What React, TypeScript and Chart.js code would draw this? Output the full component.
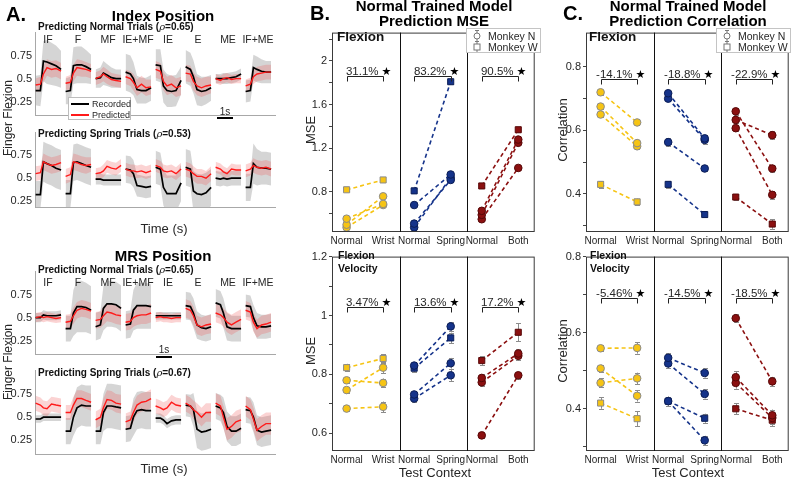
import React, { useEffect, useRef } from 'react';
import { Chart, registerables } from 'chart.js';
Chart.register(...registerables);

const FONT = '"Liberation Sans", Arial, sans-serif';
const TXT = '#262626';

// ---------------- Panel A : time series ----------------
const SEGMENTS = ['IF', 'F', 'MF', 'IE+MF', 'IE', 'E', 'ME', 'IF+ME'];
const SAMPLE_T = [0.02, 0.18, 0.28, 0.4, 0.55, 0.7, 0.87];
const A_TICKS = [0.25, 0.5, 0.75];

// Index position, normal trials
const idxNormalRec = [
  [0.37, 0.37, 0.69, 0.68, 0.66, 0.64, 0.6],
  [0.36, 0.37, 0.64, 0.65, 0.65, 0.63, 0.6],
  [0.5, 0.51, 0.56, 0.54, 0.51, 0.5, 0.5],
  [0.57, 0.55, 0.5, 0.38, 0.37, 0.37, 0.4],
  [0.65, 0.64, 0.42, 0.37, 0.36, 0.37, 0.48],
  [0.63, 0.6, 0.52, 0.38, 0.36, 0.37, 0.4],
  [0.5, 0.5, 0.5, 0.5, 0.51, 0.52, 0.55],
  [0.36, 0.37, 0.62, 0.6, 0.58, 0.57, 0.57],
];
const idxNormalPred = [
  [0.43, 0.44, 0.55, 0.62, 0.6, 0.61, 0.58],
  [0.45, 0.46, 0.56, 0.62, 0.61, 0.6, 0.58],
  [0.5, 0.52, 0.55, 0.52, 0.49, 0.48, 0.47],
  [0.52, 0.5, 0.46, 0.4, 0.44, 0.4, 0.41],
  [0.6, 0.58, 0.47, 0.42, 0.44, 0.4, 0.42],
  [0.56, 0.55, 0.47, 0.42, 0.4, 0.42, 0.43],
  [0.5, 0.48, 0.5, 0.51, 0.49, 0.5, 0.5],
  [0.42, 0.44, 0.52, 0.55, 0.56, 0.57, 0.57],
];
const idxNormalRecSd = [
  [0.16, 0.17, 0.22, 0.24, 0.23, 0.22, 0.2],
  [0.14, 0.15, 0.2, 0.2, 0.2, 0.18, 0.16],
  [0.1, 0.11, 0.13, 0.12, 0.11, 0.1, 0.1],
  [0.2, 0.2, 0.18, 0.15, 0.14, 0.14, 0.14],
  [0.17, 0.18, 0.18, 0.18, 0.17, 0.17, 0.15],
  [0.18, 0.18, 0.18, 0.17, 0.16, 0.15, 0.14],
  [0.05, 0.05, 0.06, 0.06, 0.06, 0.06, 0.06],
  [0.12, 0.12, 0.14, 0.14, 0.13, 0.12, 0.12],
];
const idxNormalPredSd = [
  [0.07, 0.08, 0.09, 0.09, 0.09, 0.09, 0.09],
  [0.07, 0.08, 0.09, 0.09, 0.09, 0.08, 0.08],
  [0.07, 0.07, 0.08, 0.08, 0.07, 0.07, 0.07],
  [0.08, 0.08, 0.09, 0.09, 0.09, 0.09, 0.08],
  [0.09, 0.09, 0.1, 0.1, 0.1, 0.1, 0.1],
  [0.09, 0.09, 0.1, 0.1, 0.1, 0.1, 0.09],
  [0.05, 0.05, 0.05, 0.05, 0.05, 0.05, 0.05],
  [0.07, 0.07, 0.08, 0.08, 0.08, 0.08, 0.08],
];

// Index position, spring trials
const idxSpringRec = [
  [0.32, 0.32, 0.68, 0.66, 0.64, 0.61, 0.59],
  [0.33, 0.33, 0.67, 0.68, 0.66, 0.64, 0.62],
  [0.49, 0.49, 0.48, 0.48, 0.48, 0.48, 0.48],
  [0.6, 0.59, 0.55, 0.42, 0.41, 0.4, 0.41],
  [0.62, 0.6, 0.4, 0.33, 0.33, 0.33, 0.45],
  [0.62, 0.6, 0.36, 0.33, 0.32, 0.34, 0.4],
  [0.5, 0.49, 0.5, 0.49, 0.5, 0.5, 0.5],
  [0.4, 0.4, 0.66, 0.62, 0.61, 0.61, 0.6],
];
const idxSpringPred = [
  [0.55, 0.56, 0.68, 0.66, 0.64, 0.65, 0.67],
  [0.52, 0.54, 0.68, 0.67, 0.65, 0.64, 0.65],
  [0.55, 0.56, 0.58, 0.63, 0.61, 0.6, 0.64],
  [0.6, 0.58, 0.58, 0.57, 0.58, 0.56, 0.58],
  [0.64, 0.62, 0.58, 0.57, 0.58, 0.55, 0.6],
  [0.6, 0.58, 0.55, 0.52, 0.52, 0.5, 0.55],
  [0.62, 0.6, 0.57, 0.55, 0.6, 0.59, 0.59],
  [0.58, 0.6, 0.64, 0.62, 0.61, 0.62, 0.6],
];
const idxSpringRecSd = [
  [0.15, 0.15, 0.22, 0.22, 0.22, 0.22, 0.22],
  [0.15, 0.15, 0.2, 0.2, 0.2, 0.2, 0.2],
  [0.06, 0.06, 0.06, 0.06, 0.06, 0.06, 0.06],
  [0.15, 0.15, 0.15, 0.12, 0.12, 0.12, 0.12],
  [0.18, 0.18, 0.2, 0.2, 0.2, 0.2, 0.2],
  [0.2, 0.2, 0.22, 0.22, 0.22, 0.22, 0.2],
  [0.08, 0.08, 0.08, 0.08, 0.08, 0.08, 0.08],
  [0.15, 0.15, 0.22, 0.2, 0.18, 0.18, 0.18],
];
const idxSpringPredSd = [
  [0.08, 0.08, 0.09, 0.09, 0.09, 0.09, 0.09],
  [0.08, 0.08, 0.09, 0.09, 0.09, 0.09, 0.08],
  [0.06, 0.06, 0.07, 0.07, 0.07, 0.07, 0.07],
  [0.07, 0.07, 0.07, 0.07, 0.07, 0.07, 0.07],
  [0.07, 0.07, 0.07, 0.07, 0.07, 0.07, 0.07],
  [0.08, 0.08, 0.08, 0.08, 0.08, 0.08, 0.08],
  [0.06, 0.06, 0.06, 0.06, 0.06, 0.06, 0.06],
  [0.07, 0.07, 0.08, 0.08, 0.08, 0.08, 0.08],
];

// MRS position, normal trials
const mrsNormalRec = [
  [0.5, 0.5, 0.53, 0.52, 0.52, 0.52, 0.53],
  [0.38, 0.38, 0.55, 0.62, 0.62, 0.61, 0.58],
  [0.4, 0.42, 0.6, 0.65, 0.65, 0.64, 0.6],
  [0.42, 0.43, 0.58, 0.63, 0.63, 0.63, 0.62],
  [0.52, 0.52, 0.52, 0.52, 0.52, 0.52, 0.52],
  [0.63, 0.62, 0.55, 0.42, 0.39, 0.38, 0.4],
  [0.66, 0.64, 0.55, 0.4, 0.38, 0.38, 0.38],
  [0.63, 0.62, 0.5, 0.41, 0.4, 0.4, 0.41],
];
const mrsNormalPred = [
  [0.5, 0.51, 0.5, 0.51, 0.5, 0.49, 0.5],
  [0.45, 0.46, 0.52, 0.58, 0.6, 0.59, 0.57],
  [0.47, 0.48, 0.52, 0.56, 0.55, 0.53, 0.52],
  [0.45, 0.46, 0.5, 0.52, 0.53, 0.53, 0.55],
  [0.5, 0.51, 0.5, 0.5, 0.49, 0.5, 0.5],
  [0.6, 0.58, 0.52, 0.42, 0.4, 0.42, 0.43],
  [0.55, 0.53, 0.5, 0.45, 0.42, 0.45, 0.48],
  [0.58, 0.56, 0.45, 0.38, 0.42, 0.43, 0.45],
];
const mrsNormalRecSd = [
  [0.05, 0.05, 0.05, 0.05, 0.05, 0.05, 0.05],
  [0.14, 0.14, 0.25, 0.28, 0.28, 0.27, 0.26],
  [0.15, 0.15, 0.24, 0.25, 0.25, 0.25, 0.25],
  [0.15, 0.15, 0.22, 0.25, 0.25, 0.25, 0.24],
  [0.04, 0.04, 0.04, 0.04, 0.04, 0.04, 0.04],
  [0.15, 0.15, 0.16, 0.15, 0.14, 0.14, 0.14],
  [0.15, 0.15, 0.16, 0.15, 0.14, 0.14, 0.14],
  [0.12, 0.12, 0.14, 0.14, 0.13, 0.13, 0.13],
];
const mrsNormalPredSd = [
  [0.05, 0.05, 0.05, 0.05, 0.05, 0.05, 0.05],
  [0.08, 0.08, 0.09, 0.09, 0.09, 0.09, 0.09],
  [0.09, 0.09, 0.1, 0.1, 0.1, 0.1, 0.1],
  [0.09, 0.09, 0.1, 0.1, 0.1, 0.1, 0.1],
  [0.05, 0.05, 0.05, 0.05, 0.05, 0.05, 0.05],
  [0.1, 0.1, 0.1, 0.1, 0.1, 0.1, 0.1],
  [0.1, 0.1, 0.1, 0.11, 0.11, 0.11, 0.11],
  [0.1, 0.1, 0.1, 0.1, 0.1, 0.1, 0.1],
];

// MRS position, spring trials
const mrsSpringRec = [
  [0.48, 0.48, 0.5, 0.5, 0.5, 0.5, 0.5],
  [0.35, 0.35, 0.5, 0.6, 0.63, 0.62, 0.62],
  [0.35, 0.35, 0.55, 0.62, 0.62, 0.61, 0.6],
  [0.37, 0.38, 0.5, 0.57, 0.58, 0.57, 0.57],
  [0.49, 0.49, 0.47, 0.43, 0.46, 0.47, 0.47],
  [0.63, 0.62, 0.58, 0.37, 0.34, 0.35, 0.37],
  [0.62, 0.6, 0.55, 0.4, 0.35, 0.35, 0.38],
  [0.58, 0.57, 0.5, 0.36, 0.34, 0.35, 0.36],
];
const mrsSpringPred = [
  [0.65, 0.63, 0.6, 0.59, 0.64, 0.63, 0.62],
  [0.55, 0.55, 0.63, 0.7, 0.7, 0.68, 0.66],
  [0.47, 0.5, 0.6, 0.69, 0.68, 0.65, 0.64],
  [0.45, 0.47, 0.55, 0.63, 0.66, 0.67, 0.7],
  [0.62, 0.6, 0.58, 0.6, 0.66, 0.63, 0.62],
  [0.65, 0.62, 0.58, 0.55, 0.5, 0.55, 0.55],
  [0.65, 0.62, 0.5, 0.37, 0.4, 0.45, 0.47],
  [0.62, 0.58, 0.48, 0.36, 0.4, 0.43, 0.43],
];
const mrsSpringRecSd = [
  [0.04, 0.04, 0.04, 0.04, 0.04, 0.04, 0.04],
  [0.14, 0.14, 0.2, 0.22, 0.22, 0.22, 0.22],
  [0.14, 0.14, 0.2, 0.24, 0.24, 0.24, 0.24],
  [0.14, 0.14, 0.2, 0.2, 0.2, 0.2, 0.2],
  [0.05, 0.05, 0.05, 0.05, 0.05, 0.05, 0.05],
  [0.12, 0.12, 0.18, 0.2, 0.2, 0.2, 0.2],
  [0.14, 0.14, 0.16, 0.16, 0.16, 0.16, 0.16],
  [0.14, 0.14, 0.16, 0.16, 0.16, 0.16, 0.16],
];
const mrsSpringPredSd = [
  [0.08, 0.08, 0.08, 0.08, 0.08, 0.08, 0.08],
  [0.08, 0.08, 0.09, 0.09, 0.09, 0.09, 0.09],
  [0.09, 0.09, 0.1, 0.1, 0.1, 0.1, 0.1],
  [0.09, 0.09, 0.1, 0.1, 0.1, 0.1, 0.1],
  [0.08, 0.08, 0.08, 0.08, 0.08, 0.08, 0.08],
  [0.09, 0.09, 0.1, 0.1, 0.1, 0.1, 0.1],
  [0.11, 0.11, 0.12, 0.12, 0.12, 0.12, 0.12],
  [0.11, 0.11, 0.12, 0.12, 0.12, 0.12, 0.12],
];

// ---------------- Panels B & C : context comparisons ----------------
const X_LABELS = ['Normal', 'Wrist', 'Normal', 'Spring', 'Normal', 'Both'];
const X_POSITIONS = [0, 1, 1.85, 2.85, 3.7, 4.7];
const DIVIDERS = [1.45, 3.3];
const CONTEXT_COLORS = ['#F6C414', '#15338A', '#8B1010'];
const MARKER_EDGE = ['#8a8a8a', '#0b1d55', '#560707'];
const SERIES_SHAPES = ['circle', 'circle', 'circle', 'rect']; // Monkey N sessions, Monkey W

// rows: Wrist, Spring, Both ; columns: N1, N2, N3, W
const mseFlexNormal = [
  [0.555, 0.5, 0.475, 0.82],
  [0.68, 0.51, 0.475, 0.81],
  [0.627, 0.59, 0.55, 0.855],
];
const mseFlexTest = [
  [0.69, 0.76, 0.68, 0.91],
  [0.96, 0.91, 0.93, 1.81],
  [1.28, 1.25, 1.02, 1.37],
];
const mseFlexErrNormal = [
  [0.01, 0.01, 0.01, 0.012],
  [0.01, 0.01, 0.01, 0.012],
  [0.01, 0.01, 0.01, 0.012],
];
const mseFlexErrTest = [
  [0.012, 0.012, 0.012, 0.012],
  [0.015, 0.015, 0.015, 0.02],
  [0.02, 0.02, 0.015, 0.02],
];
const mseVelNormal = [
  [0.78, 0.747, 0.684, 0.823],
  [0.83, 0.732, 0.718, 0.821],
  [0.788, 0.773, 0.593, 0.847],
];
const mseVelTest = [
  [0.771, 0.823, 0.69, 0.854],
  [0.963, 0.838, 0.797, 0.924],
  [0.871, 0.863, 0.797, 0.943],
];
const mseVelErrNormal = [
  [0.01, 0.01, 0.008, 0.013],
  [0.01, 0.01, 0.01, 0.012],
  [0.012, 0.012, 0.008, 0.015],
];
const mseVelErrTest = [
  [0.015, 0.018, 0.018, 0.015],
  [0.015, 0.018, 0.02, 0.018],
  [0.015, 0.015, 0.012, 0.03],
];
const corrFlexNormal = [
  [0.72, 0.675, 0.65, 0.43],
  [0.717, 0.7, 0.563, 0.43],
  [0.66, 0.633, 0.607, 0.39],
];
const corrFlexTest = [
  [0.625, 0.56, 0.55, 0.375],
  [0.575, 0.57, 0.48, 0.335],
  [0.48, 0.585, 0.397, 0.305],
];
const corrFlexErrNormal = [
  [0.008, 0.008, 0.008, 0.01],
  [0.008, 0.008, 0.012, 0.01],
  [0.01, 0.01, 0.01, 0.008],
];
const corrFlexErrTest = [
  [0.008, 0.01, 0.01, 0.01],
  [0.01, 0.012, 0.008, 0.008],
  [0.012, 0.012, 0.012, 0.015],
];
const corrVelNormal = [
  [0.559, 0.506, 0.468, 0.415],
  [0.534, 0.519, 0.42, 0.42],
  [0.638, 0.483, 0.468, 0.4],
];
const corrVelTest = [
  [0.56, 0.434, 0.48, 0.374],
  [0.494, 0.439, 0.317, 0.375],
  [0.472, 0.383, 0.376, 0.37],
];
const corrVelErrNormal = [
  [0.008, 0.01, 0.012, 0.015],
  [0.012, 0.012, 0.012, 0.012],
  [0.01, 0.015, 0.015, 0.015],
];
const corrVelErrTest = [
  [0.015, 0.015, 0.015, 0.02],
  [0.012, 0.012, 0.012, 0.012],
  [0.012, 0.015, 0.015, 0.015],
];

const mseFlexNotes = ['31.1%', '83.2%', '90.5%'];
const mseVelNotes = ['3.47%', '13.6%', '17.2%'];
const corrFlexNotes = ['-14.1%', '-18.8%', '-22.9%'];
const corrVelNotes = ['-5.46%', '-14.5%', '-18.5%'];

const mseFlexTicks = [0.6, 0.8, 1.0, 1.2, 1.4, 1.6, 1.8, 2.0, 2.2];
const mseFlexTickLabels = ['', '0.8', '', '1.2', '', '1.6', '', '2', ''];
const mseVelTicks = [0.6, 0.7, 0.8, 0.9, 1.0, 1.1, 1.2];
const mseVelTickLabels = ['0.6', '', '0.8', '', '1', '', '1.2'];
const corrFlexTicks = [0.3, 0.4, 0.5, 0.6, 0.7, 0.8];
const corrFlexTickLabels = ['', '0.4', '', '0.6', '', '0.8'];
const corrVelTicks = [0.3, 0.4, 0.5, 0.6, 0.7, 0.8];
const corrVelTickLabels = ['', '0.4', '', '0.6', '', '0.8'];

// ---------------- helpers ----------------
type Area = { l: number; t: number; r: number; b: number };

function seriesPoints(vals: number[][], sd: number[][] | null, sign: number) {
  const pts: any[] = [];
  vals.forEach((seg, s) => {
    seg.forEach((v, k) => pts.push({ x: s + SAMPLE_T[k], y: sd ? v + sign * sd[s][k] : v }));
    pts.push({ x: s + 0.95, y: null });
  });
  return pts;
}

const CLEAR = 'rgba(0,0,0,0)';

function timeConfig(rec: number[][], pred: number[][], recSd: number[][], predSd: number[][], yMin: number, yMax: number) {
  return (yW: number, xH: number) => ({
    type: 'line',
    data: {
      datasets: [
        { data: seriesPoints(rec, recSd, -1), borderColor: CLEAR, borderWidth: 0, pointRadius: 0, fill: false, order: 6 },
        { data: seriesPoints(rec, recSd, 1), borderColor: CLEAR, borderWidth: 0, pointRadius: 0, fill: '-1', backgroundColor: 'rgba(185,185,185,0.6)', order: 5 },
        { data: seriesPoints(pred, predSd, -1), borderColor: CLEAR, borderWidth: 0, pointRadius: 0, fill: false, order: 4 },
        { data: seriesPoints(pred, predSd, 1), borderColor: CLEAR, borderWidth: 0, pointRadius: 0, fill: '-1', backgroundColor: 'rgba(240,80,80,0.25)', order: 3 },
        { data: seriesPoints(rec, null, 0), borderColor: '#000', borderWidth: 1.7, pointRadius: 0, fill: false, order: 2 },
        { data: seriesPoints(pred, null, 0), borderColor: '#ff1a1a', borderWidth: 1.4, pointRadius: 0, fill: false, order: 1 },
      ],
    },
    options: {
      responsive: false,
      animation: false,
      devicePixelRatio: 1,
      spanGaps: false,
      plugins: { legend: { display: false }, tooltip: { enabled: false } },
      scales: {
        x: {
          type: 'linear', min: 0, max: 8,
          ticks: { display: false },
          grid: { display: false, drawTicks: false },
          border: { display: true, color: '#a8a8a8' },
          afterFit: (s: any) => { s.height = xH; },
        },
        y: {
          type: 'linear', min: yMin, max: yMax,
          afterBuildTicks: (s: any) => { s.ticks = A_TICKS.map((v) => ({ value: v })); },
          ticks: { font: { size: 11, family: FONT }, color: TXT, padding: 3, callback: (v: any) => String(v) },
          grid: { display: false, drawTicks: false },
          border: { display: true, color: '#a8a8a8' },
          afterFit: (s: any) => { s.width = yW; },
        },
      },
    },
  });
}

const panelDecor = {
  id: 'panelDecor',
  beforeDatasetsDraw(chart: any, _a: any, opts: any) {
    const { ctx, scales } = chart;
    const errs: number[][] = opts.errs || [];
    ctx.save();
    ctx.strokeStyle = '#8c8c8c';
    ctx.lineWidth = 1;
    chart.data.datasets.forEach((ds: any, i: number) => {
      ds.data.forEach((p: any, j: number) => {
        const e = errs[i] ? errs[i][j] : 0;
        if (!e) return;
        const px = Math.round(scales.x.getPixelForValue(p.x)) + 0.5;
        const y0 = scales.y.getPixelForValue(p.y - e);
        const y1 = scales.y.getPixelForValue(p.y + e);
        ctx.beginPath();
        ctx.moveTo(px, y0);
        ctx.lineTo(px, y1);
        ctx.moveTo(px - 2.5, Math.round(y0) + 0.5);
        ctx.lineTo(px + 2.5, Math.round(y0) + 0.5);
        ctx.moveTo(px - 2.5, Math.round(y1) + 0.5);
        ctx.lineTo(px + 2.5, Math.round(y1) + 0.5);
        ctx.stroke();
      });
    });
    ctx.restore();
  },
  afterDraw(chart: any, _a: any, opts: any) {
    const { ctx, chartArea: a, scales } = chart;
    const x = scales.x;
    ctx.save();
    ctx.strokeStyle = '#3a3a3a';
    ctx.lineWidth = 1;
    ctx.strokeRect(a.left + 0.5, a.top + 0.5, a.right - a.left - 1, a.bottom - a.top - 1);
    ctx.strokeStyle = '#111';
    DIVIDERS.forEach((v) => {
      const px = Math.round(x.getPixelForValue(v)) + 0.5;
      ctx.beginPath();
      ctx.moveTo(px, a.top);
      ctx.lineTo(px, a.bottom);
      ctx.stroke();
    });
    (opts.notes || []).forEach((txt: string, i: number) => {
      const x0 = Math.round(x.getPixelForValue(X_POSITIONS[i * 2])) + 0.5;
      const x1 = Math.round(x.getPixelForValue(X_POSITIONS[i * 2 + 1])) + 0.5;
      const yb = Math.round(a.top + opts.bracketY) + 0.5;
      ctx.strokeStyle = '#222';
      ctx.beginPath();
      ctx.moveTo(x0, yb + 5);
      ctx.lineTo(x0, yb);
      ctx.lineTo(x1, yb);
      ctx.lineTo(x1, yb + 5);
      ctx.stroke();
      ctx.fillStyle = TXT;
      ctx.font = `11.5px ${FONT}`;
      ctx.textBaseline = 'alphabetic';
      ctx.textAlign = 'right';
      ctx.fillText(txt, x1 - 5, yb - 2);
      ctx.font = `11px "DejaVu Sans", ${FONT}`;
      ctx.textAlign = 'left';
      ctx.fillStyle = '#000';
      ctx.fillText('★', x1 - 2, yb - 2);
    });
    ctx.restore();
  },
};

function dotConfig(base: number[][], test: number[][], errBase: number[][], errTest: number[][], ticks: number[], tickLabels: string[], yMin: number, yMax: number, notes: string[], bracketY: number) {
  return (yW: number, xH: number) => {
    const datasets: any[] = [];
    const errs: number[][] = [];
    base.forEach((row, c) =>
      row.forEach((v, s) => {
        datasets.push({
          data: [
            { x: X_POSITIONS[c * 2], y: v },
            { x: X_POSITIONS[c * 2 + 1], y: test[c][s] },
          ],
          borderColor: CONTEXT_COLORS[c],
          borderWidth: 1.6,
          borderDash: [4, 3],
          fill: false,
          pointStyle: SERIES_SHAPES[s],
          pointRadius: SERIES_SHAPES[s] === 'rect' ? 4.3 : 3.8,
          pointBackgroundColor: CONTEXT_COLORS[c],
          pointBorderColor: MARKER_EDGE[c],
          pointBorderWidth: 1,
        });
        errs.push([errBase[c][s], errTest[c][s]]);
      })
    );
    return {
      type: 'line',
      data: { datasets },
      plugins: [panelDecor],
      options: {
        responsive: false,
        animation: false,
        devicePixelRatio: 1,
        plugins: { legend: { display: false }, tooltip: { enabled: false }, panelDecor: { notes, bracketY, errs } },
        scales: {
          x: {
            type: 'linear', min: -0.4, max: 5.15,
            afterBuildTicks: (s: any) => { s.ticks = X_POSITIONS.map((v) => ({ value: v })); },
            ticks: { font: { size: 10, family: FONT }, color: TXT, padding: 3, maxRotation: 0, autoSkip: false, callback: (_v: any, i: number) => X_LABELS[i] },
            grid: { display: false, drawTicks: false },
            border: { display: false },
            afterFit: (s: any) => { s.height = xH; },
          },
          y: {
            type: 'linear', min: yMin, max: yMax,
            afterBuildTicks: (s: any) => { s.ticks = ticks.map((v) => ({ value: v })); },
            ticks: { font: { size: 11, family: FONT }, color: TXT, padding: 2, callback: (_v: any, i: number) => tickLabels[i] },
            grid: { display: true, drawOnChartArea: false, drawTicks: true, tickLength: 3, color: '#444' },
            border: { display: false },
            afterFit: (s: any) => { s.width = yW; },
          },
        },
      },
    };
  };
}

function ChartBox({ area, yW, xH, make }: { area: Area; yW: number; xH: number; make: (yW: number, xH: number) => any }) {
  const ref = useRef<HTMLCanvasElement>(null);
  const pad = 4;
  const w = area.r - area.l + yW + 2 * pad;
  const h = area.b - area.t + xH + 2 * pad;
  useEffect(() => {
    const cfg = make(yW, xH);
    cfg.options.layout = { padding: pad };
    const chart = new Chart(ref.current as HTMLCanvasElement, cfg);
    return () => chart.destroy();
  }, []);
  return (
    <canvas
      ref={ref}
      width={w}
      height={h}
      style={{ position: 'absolute', left: area.l - yW - pad, top: area.t - pad, width: w, height: h }}
    />
  );
}

function T({ x, y, children, size = 12, bold = false, align = 'center', rot = false, color = TXT, family = FONT }: any) {
  const tx = align === 'center' ? '-50%' : align === 'right' ? '-100%' : '0';
  return (
    <div
      style={{
        position: 'absolute',
        left: x,
        top: y,
        transform: `translate(${tx}, -50%)${rot ? ' rotate(-90deg)' : ''}`,
        font: `${bold ? 'bold ' : ''}${size}px ${family}`,
        whiteSpace: 'nowrap',
        color,
        lineHeight: 1,
      }}
    >
      {children}
    </div>
  );
}

function MonkeyLegend({ x, y }: { x: number; y: number }) {
  const row = (shape: string, label: string, top: number) => (
    <div style={{ position: 'absolute', left: 4, top, display: 'flex', alignItems: 'center', whiteSpace: 'nowrap' }}>
      <svg width="12" height="12" style={{ display: 'block', flex: 'none' }}>
        <line x1="6" y1="0" x2="6" y2="12" stroke="#777" strokeWidth="1" />
        <line x1="4" y1="0.5" x2="8" y2="0.5" stroke="#777" strokeWidth="1" />
        <line x1="4" y1="11.5" x2="8" y2="11.5" stroke="#777" strokeWidth="1" />
        {shape === 'circle' ? (
          <circle cx="6" cy="6" r="3" fill="#fff" stroke="#777" strokeWidth="1" />
        ) : (
          <rect x="3" y="3" width="6" height="6" fill="#fff" stroke="#777" strokeWidth="1" />
        )}
      </svg>
      <span style={{ font: `10.5px ${FONT}`, color: TXT, marginLeft: 5, lineHeight: 1, whiteSpace: 'nowrap' }}>{label}</span>
    </div>
  );
  return (
    <div
      style={{
        position: 'absolute', left: x, top: y, width: 75, height: 25,
        border: '1px solid #c4c4c4', background: '#fff', boxSizing: 'border-box', overflow: 'hidden',
      }}
    >
      {row('circle', 'Monkey N', 1)}
      {row('rect', 'Monkey W', 12)}
    </div>
  );
}

function Subtitle({ y, trial, rho }: { y: number; trial: string; rho: string }) {
  return (
    <T x={38} y={y} size={10} bold align="left" color="#111">
      Predicting {trial} Trials (<i style={{ fontFamily: '"DejaVu Serif", serif', fontWeight: 'normal' }}>ρ</i>={rho})
    </T>
  );
}

const A_AREAS: Area[] = [
  { l: 35, t: 27, r: 275, b: 121 },
  { l: 35, t: 127, r: 275, b: 213 },
  { l: 35, t: 266, r: 275, b: 360 },
  { l: 35, t: 365, r: 275, b: 460 },
];

export default function App() {
  return (
    <div style={{ position: 'absolute', left: 0, top: 0, width: 791, height: 477, overflow: 'hidden', background: '#fff' }}>
      {/* Panel A */}
      <ChartBox area={A_AREAS[0]} yW={35} xH={0} make={timeConfig(idxNormalRec, idxNormalPred, idxNormalRecSd, idxNormalPredSd, 0.1, 1.0)} />
      <ChartBox area={A_AREAS[1]} yW={35} xH={0} make={timeConfig(idxSpringRec, idxSpringPred, idxSpringRecSd, idxSpringPredSd, 0.18, 1.0)} />
      <ChartBox area={A_AREAS[2]} yW={35} xH={0} make={timeConfig(mrsNormalRec, mrsNormalPred, mrsNormalRecSd, mrsNormalPredSd, 0.1, 1.0)} />
      <ChartBox area={A_AREAS[3]} yW={35} xH={0} make={timeConfig(mrsSpringRec, mrsSpringPred, mrsSpringRecSd, mrsSpringPredSd, 0.1, 1.0)} />

      {/* Panel B */}
      <ChartBox area={{ l: 332, t: 28, r: 536, b: 232 }} yW={30} xH={18}
        make={dotConfig(mseFlexNormal, mseFlexTest, mseFlexErrNormal, mseFlexErrTest, mseFlexTicks, mseFlexTickLabels, 0.433, 2.26, mseFlexNotes, 43)} />
      <ChartBox area={{ l: 332, t: 252, r: 536, b: 451 }} yW={30} xH={18}
        make={dotConfig(mseVelNormal, mseVelTest, mseVelErrNormal, mseVelErrTest, mseVelTicks, mseVelTickLabels, 0.54, 1.2, mseVelNotes, 50)} />

      {/* Panel C */}
      <ChartBox area={{ l: 586, t: 28, r: 790, b: 232 }} yW={30} xH={18}
        make={dotConfig(corrFlexNormal, corrFlexTest, corrFlexErrNormal, corrFlexErrTest, corrFlexTicks, corrFlexTickLabels, 0.28, 0.908, corrFlexNotes, 46)} />
      <ChartBox area={{ l: 586, t: 252, r: 790, b: 451 }} yW={30} xH={18}
        make={dotConfig(corrVelNormal, corrVelTest, corrVelErrNormal, corrVelErrTest, corrVelTicks, corrVelTickLabels, 0.289, 0.8, corrVelNotes, 41)} />

      {/* Panel A texts */}
      <T x={6} y={14} size={20} bold align="left" color="#000">A.</T>
      <T x={163} y={15} size={15} bold color="#000">Index Position</T>
      <T x={163} y={255} size={15} bold color="#000">MRS Position</T>
      <Subtitle y={27} trial="Normal" rho="0.65" />
      <Subtitle y={134} trial="Spring" rho="0.53" />
      <Subtitle y={270} trial="Normal" rho="0.65" />
      <Subtitle y={373} trial="Spring" rho="0.67" />
      {SEGMENTS.map((s, i) => (
        <T key={'s1' + i} x={35 + 30 * i + 13} y={39} size={10.5}>{s}</T>
      ))}
      {SEGMENTS.map((s, i) => (
        <T key={'s3' + i} x={35 + 30 * i + 13} y={282} size={10.5}>{s}</T>
      ))}
      <T x={8} y={118} size={12} rot>Finger Flexion</T>
      <T x={8} y={362} size={12} rot>Finger Flexion</T>
      <T x={164} y={228} size={13}>Time (s)</T>
      <T x={164} y={468} size={13}>Time (s)</T>
      {/* scale bars */}
      <T x={225} y={112} size={10}>1s</T>
      <div style={{ position: 'absolute', left: 217, top: 117, width: 16, height: 2, background: '#000' }} />
      <T x={164} y={350} size={10}>1s</T>
      <div style={{ position: 'absolute', left: 156, top: 356, width: 16, height: 2, background: '#000' }} />
      {/* legend A */}
      <div style={{ position: 'absolute', left: 68, top: 97, width: 63, height: 23, border: '1px solid #bdbdbd', background: '#fff', boxSizing: 'border-box' }}>
        <div style={{ position: 'absolute', left: 2, top: 5, width: 18, height: 2, background: '#000' }} />
        <div style={{ position: 'absolute', left: 23, top: 1, font: `9px ${FONT}`, color: TXT }}>Recorded</div>
        <div style={{ position: 'absolute', left: 2, top: 16, width: 18, height: 2, background: '#ff1a1a' }} />
        <div style={{ position: 'absolute', left: 23, top: 12, font: `9px ${FONT}`, color: TXT }}>Predicted</div>
      </div>

      {/* Panel B texts */}
      <T x={310} y={13} size={20} bold align="left" color="#000">B.</T>
      <T x={434} y={5} size={15} bold color="#000">Normal Trained Model</T>
      <T x={434} y={20} size={15} bold color="#000">Prediction MSE</T>
      <T x={337} y={37} size={13.5} bold align="left" color="#111">Flexion</T>
      <T x={338} y={255} size={10.5} bold align="left" color="#111">Flexion</T>
      <T x={338} y={268} size={10.5} bold align="left" color="#111">Velocity</T>
      <T x={310} y={130} size={13} rot>MSE</T>
      <T x={310} y={351} size={13} rot>MSE</T>
      <T x={435} y={472} size={13}>Test Context</T>
      <MonkeyLegend x={466} y={28} />

      {/* Panel C texts */}
      <T x={563} y={13} size={20} bold align="left" color="#000">C.</T>
      <T x={688} y={5} size={15} bold color="#000">Normal Trained Model</T>
      <T x={688} y={20} size={15} bold color="#000">Prediction Correlation</T>
      <T x={589} y={37} size={13.5} bold align="left" color="#111">Flexion</T>
      <T x={590} y={255} size={10.5} bold align="left" color="#111">Flexion</T>
      <T x={590} y={268} size={10.5} bold align="left" color="#111">Velocity</T>
      <T x={562} y={130} size={13} rot>Correlation</T>
      <T x={562} y={351} size={13} rot>Correlation</T>
      <T x={688} y={472} size={13}>Test Context</T>
      <MonkeyLegend x={716} y={28} />
    </div>
  );
}
